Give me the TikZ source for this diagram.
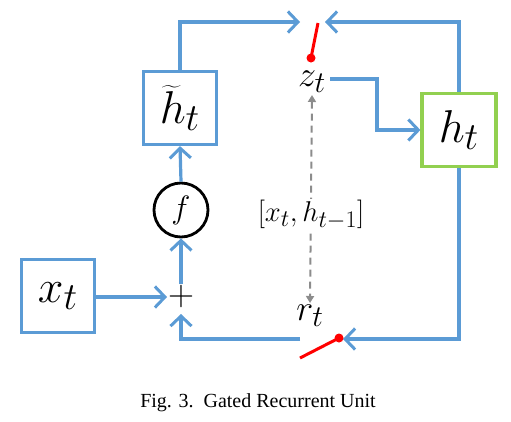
\documentclass[tikz,border=0pt]{standalone}
\usepackage{graphicx}
\usepackage{fontspec}
\newfontfamily\capfont{Liberation Serif}
\usetikzlibrary{arrows.meta}
\definecolor{flowblue}{RGB}{91,155,213}
\definecolor{boxgreen}{RGB}{146,208,80}
\definecolor{switchred}{RGB}{255,0,0}
\newcommand{\boxmathlbl}[1]{\scalebox{1.85}{\Huge$#1$}}
\newcommand{\gatemathlbl}[1]{\scalebox{1.45}{\Huge$#1$}}
\tikzset{
  flow/.style={draw=flowblue, line width=3.2pt, line join=miter},
  flowarrow/.style={flow, -{Straight Barb[length=10pt,width=21pt,line width=3pt]}},
  bluebox/.style={draw=flowblue, line width=3.2pt, minimum width=73pt, minimum height=73pt, inner sep=0pt, fill=white},
  greenbox/.style={draw=boxgreen, line width=3.2pt, minimum width=74pt, minimum height=73pt, inner sep=0pt, fill=white},
  switchline/.style={draw=switchred, line width=3pt},
  gatedash/.style={draw=gray!90, line width=2pt, dash pattern=on 7pt off 5pt, {Triangle[length=7pt,width=8pt]}-{Triangle[length=7pt,width=8pt]}},
  midmath/.style={inner sep=0pt},
}
\begin{document}
\begin{tikzpicture}[x=1pt,y=-1pt]
\useasboundingbox (0,0) rectangle (511,421);
% boxes
\node[bluebox] (ht) at (180,108) {\boxmathlbl{\widetilde{h}_t}};
\node[greenbox] (h) at (459,130) {\boxmathlbl{h_t}};
\node[bluebox] (x) at (58,296) {\boxmathlbl{x_t}};
\node[draw=black, line width=2.8pt, circle, minimum size=54pt, inner sep=0pt] (f) at (181,210) {\scalebox{1.3}{\Huge$f$}};
\node[inner sep=0pt] (plus) at (181,296) {\scalebox{1.45}{\Huge$+$}};
\node[midmath] (z) at (312,82) {\gatemathlbl{z_t}};
\node[midmath] (r) at (310,316) {\gatemathlbl{r_t}};
% coordinates
\coordinate (zl) at (300,22);
\coordinate (zr) at (325,22);
\coordinate (zs) at (330,79);
\coordinate (zc) at (377,79);
\coordinate (zd) at (377,130);
\coordinate (rr) at (343,339);
\coordinate (rl) at (300,339);
\coordinate (bl) at (181,339);
\coordinate (pb) at (181,314);
\coordinate (pt) at (181,284);
\coordinate (pl) at (167,297);
\coordinate (s1a) at (318,23);
\coordinate (s1b) at (311,58);
\coordinate (s2a) at (339,338);
\coordinate (s2b) at (300,358);
% flows
\draw[flowarrow] (ht.north) |- (zl);
\draw[flowarrow] (h.north) |- (zr);
\draw[flowarrow] (zs) -- (zc) -- (zd) -- (h.west);
\draw[flowarrow] (h.south) |- (rr);
\draw[flowarrow] (rl) -- (bl) -- (pb);
\draw[flowarrow] (x.east |- pl) -- (pl);
\draw[flowarrow] (pt) -- (f.south);
\draw[flowarrow] (f.north) -- (ht.south);
% switches
\draw[switchline] (s1a) -- (s1b);
\fill[switchred] (s1b) circle (4.5pt);
\draw[switchline] (s2a) -- (s2b);
\fill[switchred] (s2a) circle (4.5pt);
% gate dashed
\draw[gatedash] ([yshift=-2pt]z.south) -- ([yshift=2pt]r.north);
\node[fill=white, inner sep=2pt] (in) at (311,215) {\scalebox{1.15}{\Huge$[x_t,h_{t-1}]$}};
% caption
\node[font=\capfont\fontsize{20}{20}\selectfont, inner sep=0pt] (cap) at (258,403) {Fig. 3.\enspace Gated Recurrent Unit};
\end{tikzpicture}
\end{document}
